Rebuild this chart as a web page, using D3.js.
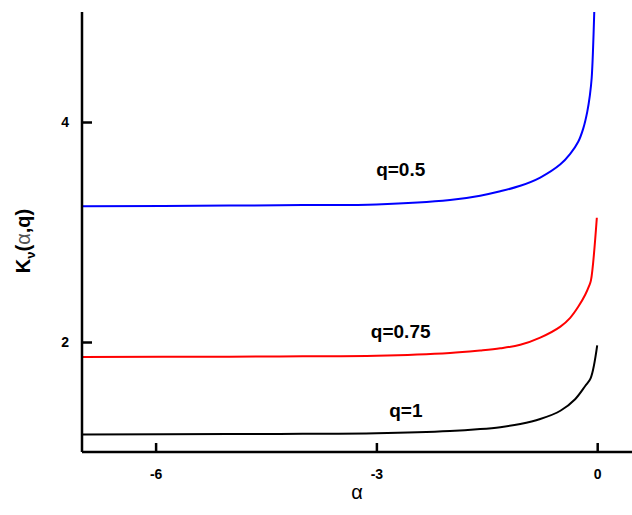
<!DOCTYPE html>
<html>
<head>
<meta charset="utf-8">
<script src="https://cdn.jsdelivr.net/npm/d3@7"></script>
<style>
  body { margin: 0; background: #fff; }
  text { font-family: "Liberation Sans", Arial, sans-serif; }
</style>
</head>
<body>
<div id="chart"></div>
<script>
// values
var alphasA = [-7, -5, -4, -3, -2, -1.59, -1.317, -1.045, -0.774, -0.5, -0.367, -0.258, -0.19, -0.136, -0.1, -0.075, -0.04];
var kHalf   = [3.233, 3.24, 3.245, 3.25, 3.29, 3.33, 3.37, 3.42, 3.495, 3.615, 3.71, 3.82, 3.94, 4.09, 4.24, 4.4, 5.0];

var alphasB = [-7, -5, -4, -3, -2, -1.59, -1.317, -1.045, -0.774, -0.5, -0.367, -0.258, -0.163, -0.11, -0.085, -0.005];
var kThree  = [1.863, 1.867, 1.87, 1.875, 1.90, 1.923, 1.943, 1.975, 2.04, 2.14, 2.22, 2.32, 2.43, 2.51, 2.56, 3.13];

var alphasC = [-7, -5, -4, -3, -2, -1.59, -1.317, -1.045, -0.774, -0.5, -0.3, -0.163, -0.09, 0];
var kOne    = [1.16, 1.163, 1.165, 1.17, 1.19, 1.208, 1.226, 1.255, 1.30, 1.375, 1.48, 1.6, 1.67, 1.97];

var seriesNames = ["q=0.5", "q=0.75", "q=1"];
var seriesColors = ["#0000ff", "#ff0000", "#000000"];
var xTicks = [-6, -3, 0];
var yTicks = [2, 4];

var W = 632, H = 515;
var x = d3.scaleLinear().domain([-7, 0.5]).range([82, 634]);
var y = d3.scaleLinear().domain([1, 5]).range([452, 12]);

var svg = d3.select('#chart').append('svg')
    .attr('width', W).attr('height', H);

var series = [
  {name: seriesNames[0], color: seriesColors[0], xs: alphasA, ys: kHalf,  lx: -2.67, ly: 3.51},
  {name: seriesNames[1], color: seriesColors[1], xs: alphasB, ys: kThree, lx: -2.67, ly: 2.04},
  {name: seriesNames[2], color: seriesColors[2], xs: alphasC, ys: kOne,   lx: -2.6,  ly: 1.32}
];

var line = d3.line()
    .x(function(d){ return x(d[0]); })
    .y(function(d){ return y(d[1]); })
    .curve(d3.curveCatmullRom.alpha(0.5));

series.forEach(function(s){
  var pts = s.xs.map(function(a, i){ return [a, s.ys[i]]; });
  svg.append('path')
    .attr('d', line(pts))
    .attr('fill', 'none')
    .attr('stroke', s.color)
    .attr('stroke-width', 2);
  svg.append('text')
    .attr('x', x(s.lx)).attr('y', y(s.ly))
    .attr('text-anchor', 'middle')
    .attr('font-size', 19).attr('font-weight', 'bold')
    .text(s.name);
});

// axes
var xAxis = d3.axisBottom(x).tickValues(xTicks).tickSize(-9).tickPadding(17)
    .tickFormat(function(d){ return String(d); });
var yAxis = d3.axisLeft(y).tickValues(yTicks).tickSize(-10).tickPadding(13)
    .tickFormat(function(d){ return String(d); });

var gx = svg.append('g').attr('transform', 'translate(0,452)').call(xAxis);
var gy = svg.append('g').attr('transform', 'translate(82,0)').call(yAxis);

[gx, gy].forEach(function(g){
  g.select('.domain').attr('stroke', '#000').attr('stroke-width', 2.5);
  g.selectAll('.tick line').attr('stroke', '#000').attr('stroke-width', 2.5);
  g.selectAll('.tick text')
    .attr('font-family', '"Liberation Sans", Arial, sans-serif')
    .attr('font-size', 14).attr('font-weight', 'bold').attr('fill', '#000');
});
gx.select('.domain').attr('d', 'M82,0H632');
gy.select('.domain').attr('d', 'M0,12V452');

// axis titles
svg.append('text')
  .attr('x', 357).attr('y', 499)
  .attr('text-anchor', 'middle')
  .attr('font-size', 20)
  .text('α');

var yt = svg.append('text')
  .attr('transform', 'translate(30,241) rotate(-90)')
  .attr('text-anchor', 'middle')
  .attr('font-size', 20).attr('font-weight', 'bold');
yt.append('tspan').text('K');
yt.append('tspan').attr('font-size', 13).attr('dy', 5).text('ν');
yt.append('tspan').attr('dy', -5).text('(');
yt.append('tspan').attr('font-weight', 'normal').attr('fill', '#555').text('α');
yt.append('tspan').text(',q)');
</script>
</body>
</html>
